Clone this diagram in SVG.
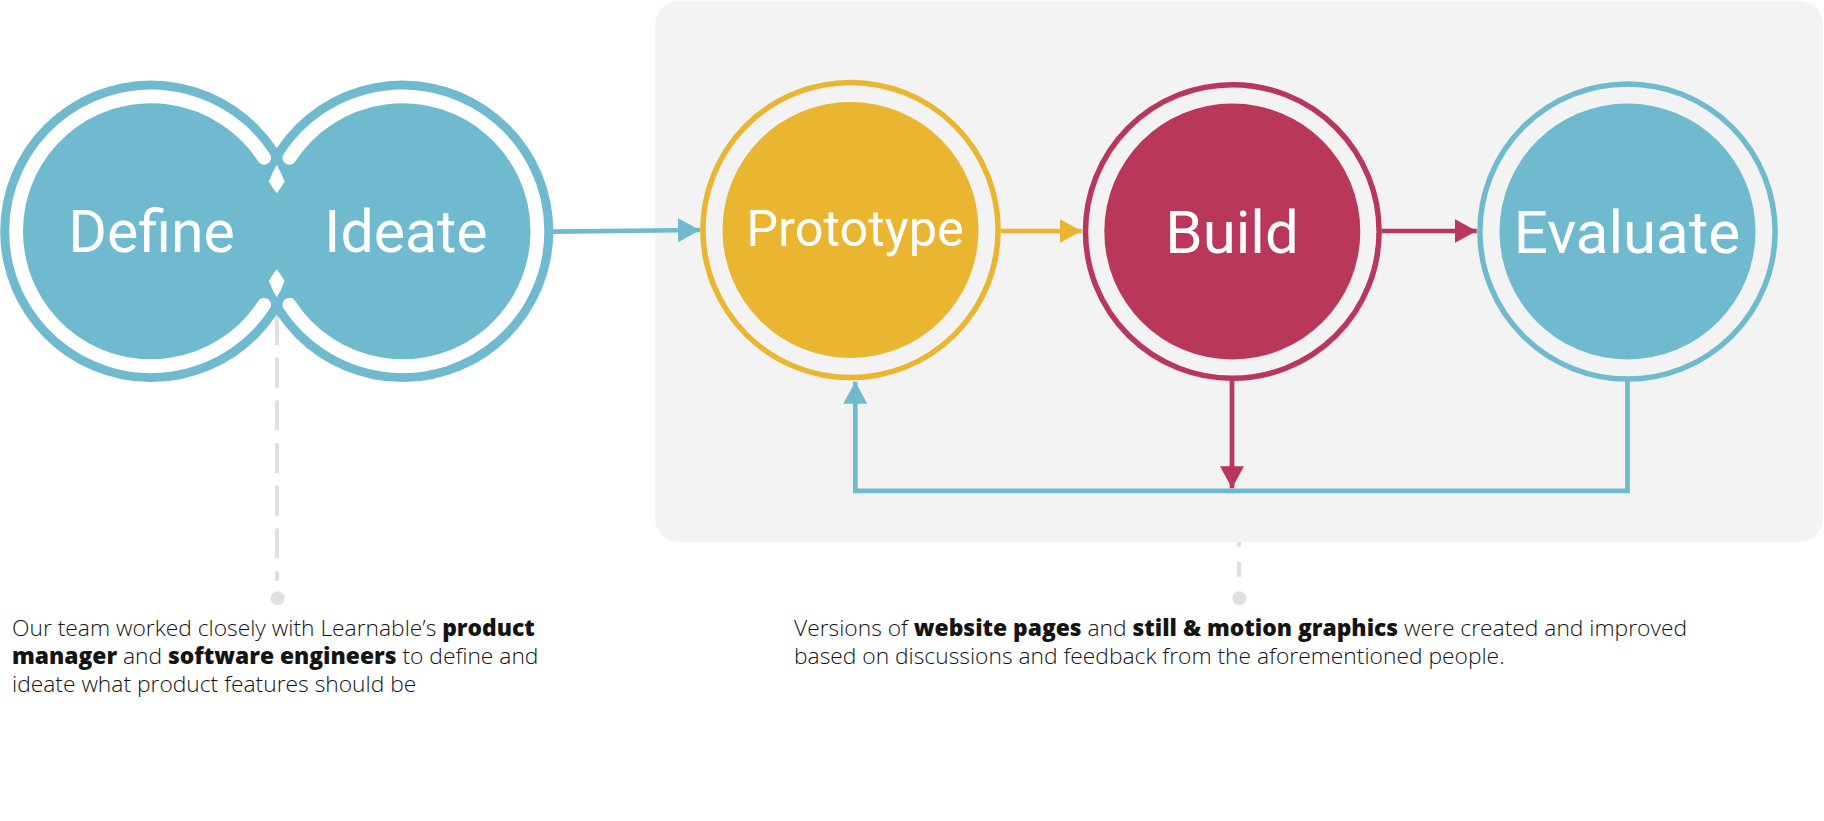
<svg xmlns="http://www.w3.org/2000/svg" width="1824" height="821" viewBox="0 0 1824 821">
  <style>
    .lbl { font-family: Roboto, "Liberation Sans", sans-serif; fill: #ffffff; text-anchor: middle; font-weight: 400; }
    .para { font-family: "Open Sans", Roboto, "Liberation Sans", sans-serif; font-size: 22.8px; font-weight: 300; fill: #141414; }
    .b { font-weight: 800; }
    .ring { fill: none; stroke-width: 5.5; }
    .conn { fill: none; stroke-width: 4.7; }
    .dash { stroke: #e0e0e0; stroke-width: 4; fill: none; }
  </style>
  <defs>
    <marker id="ahBlue" viewBox="0 0 22 24" refX="22" refY="12" markerWidth="22" markerHeight="24" markerUnits="userSpaceOnUse" orient="auto">
      <path d="M0,0 L22,12 L0,24 Z" fill="#6FBACF"/>
    </marker>
    <marker id="ahYellow" viewBox="0 0 22 24" refX="22" refY="12" markerWidth="22" markerHeight="24" markerUnits="userSpaceOnUse" orient="auto">
      <path d="M0,0 L22,12 L0,24 Z" fill="#EAB530"/>
    </marker>
    <marker id="ahRed" viewBox="0 0 22 24" refX="22" refY="12" markerWidth="22" markerHeight="24" markerUnits="userSpaceOnUse" orient="auto">
      <path d="M0,0 L22,12 L0,24 Z" fill="#B8375A"/>
    </marker>
  </defs>

  <rect id="panel" x="655" y="1" width="1168" height="541" rx="24" ry="24" fill="#f3f3f3"/>

  <g id="annotation-lines">
    <line class="dash" x1="277" y1="315" x2="277" y2="581" stroke-dasharray="30 12.7"/>
    <circle cx="277.5" cy="598.3" r="7" fill="#e0e0e0"/>
    <line class="dash" x1="1239" y1="542" x2="1239" y2="578" stroke-dasharray="5 15 15 15"/>
    <circle cx="1239.5" cy="598.3" r="7" fill="#e0e0e0"/>
  </g>

  <g id="define-ideate">
    <circle cx="151" cy="231.3" r="150.8" fill="#6FBACF"/>
    <circle cx="402.5" cy="231.3" r="150.8" fill="#6FBACF"/>
    <path d="M264.1,157.8 A134.9,134.9 0 1 0 264.1,304.8" fill="none" stroke="#ffffff" stroke-width="13.8" stroke-linecap="round"/>
    <path d="M289.4,157.8 A134.9,134.9 0 1 1 289.4,304.8" fill="none" stroke="#ffffff" stroke-width="13.8" stroke-linecap="round"/>
    <path d="M276.75,165 Q281,172 284.6,181.5 Q281,188 276.75,193.3 Q272.5,188 268.9,181.5 Q272.5,172 276.75,165 Z" fill="#ffffff"/>
    <path d="M276.75,297.6 Q281,290.6 284.6,281.1 Q281,274.6 276.75,269.3 Q272.5,274.6 268.9,281.1 Q272.5,290.6 276.75,297.6 Z" fill="#ffffff"/>
    <g id="define">
      <text class="lbl" x="151.5" y="252" font-size="59">Define</text>
    </g>
    <g id="ideate">
      <text class="lbl" x="406" y="252" font-size="59">Ideate</text>
    </g>
  </g>

  <g id="prototype">
    <circle class="ring" cx="850.5" cy="230" r="147.6" stroke="#EAB530"/>
    <circle cx="850.5" cy="230" r="128" fill="#EAB530"/>
    <text class="lbl" x="855" y="245.5" font-size="50.5">Prototype</text>
  </g>

  <g id="build">
    <circle class="ring" cx="1232.3" cy="231.5" r="146.8" stroke="#B8375A"/>
    <circle cx="1232.3" cy="231.5" r="128" fill="#B8375A"/>
    <text class="lbl" x="1232" y="252.5" font-size="60">Build</text>
  </g>

  <g id="evaluate">
    <circle class="ring" cx="1627.5" cy="231.5" r="147.6" stroke="#6FBACF"/>
    <circle cx="1627.5" cy="231.5" r="128" fill="#6FBACF"/>
    <text class="lbl" x="1627" y="252.5" font-size="60">Evaluate</text>
  </g>

  <g id="connectors">
    <path class="conn" d="M553,231.7 L700,230" stroke="#6FBACF" marker-end="url(#ahBlue)"/>
    <path class="conn" d="M1001,231 L1081.7,231" stroke="#EAB530" marker-end="url(#ahYellow)"/>
    <path class="conn" d="M1381.7,231 L1476.7,231" stroke="#B8375A" marker-end="url(#ahRed)"/>
    <path class="conn" d="M1232,381 L1232,488.3" stroke="#B8375A" stroke-width="4" marker-end="url(#ahRed)"/>
    <path class="conn" d="M1627.5,381 L1627.5,490.8 L855.3,490.8 L855.3,381.7" stroke="#6FBACF" stroke-width="5" marker-end="url(#ahBlue)"/>
  </g>

  <g id="text-left">
    <text class="para" x="12" y="635.5">Our team worked closely with Learnable’s <tspan class="b">product</tspan></text>
    <text class="para" x="12" y="663.5"><tspan class="b">manager</tspan> and <tspan class="b">software engineers</tspan> to define and</text>
    <text class="para" x="12" y="691.5">ideate what product features should be</text>
  </g>

  <g id="text-right">
    <text class="para" x="794" y="635.5">Versions of <tspan class="b">website pages</tspan> and <tspan class="b">still &amp; motion graphics</tspan> were created and improved</text>
    <text class="para" x="794" y="663.5">based on discussions and feedback from the aforementioned people.</text>
  </g>
</svg>
